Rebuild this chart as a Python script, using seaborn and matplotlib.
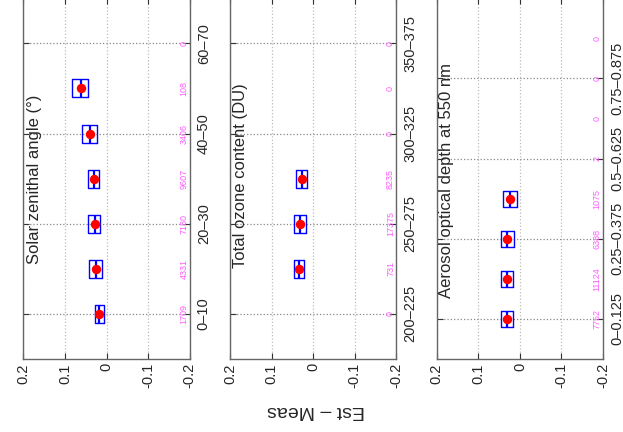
import numpy as np
import pandas as pd
import matplotlib
matplotlib.use('Agg')
import matplotlib.pyplot as plt
import seaborn as sns

## Values (Est - Meas), one entry per bin
# low / median / high edge of each box; None where the bin is empty

sza_bins = ['0–10', '10–20', '20–30', '30–40', '40–50', '50–60', '60–70']
sza_low = [0.006, 0.0106, 0.0168, 0.0178, 0.024, 0.0457, None]
sza_med = [0.0185, 0.0257, 0.028, 0.0305, 0.040, 0.062, None]
sza_high = [0.029, 0.0418, 0.0442, 0.0457, 0.0587, 0.0834, None]
sza_count = [1709, 4331, 7180, 9607, 3406, 108, 0]

oz_bins = ['200–225', '225–250', '250–275', '275–300', '300–325', '325–350', '350–375']
oz_low = [None, 0.0224, 0.0176, 0.0145, None, None, None]
oz_med = [None, 0.0344, 0.032, 0.0272, None, None, None]
oz_high = [None, 0.0457, 0.0472, 0.0416, None, None, None]
oz_count = [0, 731, 17375, 8235, 0, 0, 0]

aod_bins = ['0–0.125', '0.125–0.25', '0.25–0.375', '0.375–0.5',
            '0.5–0.625', '0.625–0.75', '0.75–0.875', '0.875–1']
aod_low = [0.0157, 0.0164, 0.014, 0.0068, None, None, None, None]
aod_med = [0.0301, 0.0309, 0.030, 0.0229, None, None, None, None]
aod_high = [0.0463, 0.0463, 0.0463, 0.0406, None, None, None, None]
aod_count = [7752, 11124, 6388, 1075, 2, 0, 0, 0]

titles = ['Solar zenithal angle (°)', 'Total ozone content (DU)',
          'Aerosol optical depth at 550 nm']
value_ticks = [0.2, 0.1, 0, -0.1, -0.2]
value_labels = ['0.2', '0.1', '0', '-0.1', '-0.2']

sns.set_style('white')
plt.rcParams['font.family'] = ['Liberation Sans', 'DejaVu Sans']


def long_form(bins, low, med, high):
    # five points per bin so that quartiles land exactly on low/med/high
    rows = []
    for b, lo, md, hi in zip(bins, low, med, high):
        if lo is None:
            continue
        for v in (lo, lo, md, hi, hi):
            rows.append({'bin': b, 'diff': v})
    return pd.DataFrame(rows)


panels = [
    (sza_bins, sza_low, sza_med, sza_high, sza_count),
    (oz_bins, oz_low, oz_med, oz_high, oz_count),
    (aod_bins, aod_low, aod_med, aod_high, aod_count),
]
lefts = [0.0377, 0.3692, 0.7010]
title_pos = [(0.022, 0.262), (0.015, 0.253), (0.015, 0.17)]

fig = plt.figure(figsize=(6.23, 4.32), dpi=100)

for i, (bins, low, med, high, count) in enumerate(panels):
    ax = fig.add_axes([lefts[i], 0.169, 0.267, 0.835])
    df = long_form(bins, low, med, high)
    sns.boxplot(data=df, x='diff', y='bin', order=bins, orient='h', ax=ax,
                width=0.4, fill=False, color='#0000ff', linewidth=1,
                whis=1.5, showcaps=False, fliersize=0,
                medianprops=dict(color='#0000ff', linewidth=1.6))
    dots = pd.DataFrame({'bin': bins, 'med': med}).dropna()
    sns.stripplot(data=dots, x='med', y='bin', order=bins, orient='h',
                  jitter=False, color='red', size=6.8, ax=ax, zorder=5)

    n = len(bins)
    ax.set_xlim(0.2, -0.2)
    ax.set_ylim(-1, n)

    # sample counts along the right edge
    for j, c in enumerate(count):
        ax.text(-0.186, j, str(c), rotation=90, ha='center', va='center',
                fontsize=6.5, color='#ff5cff')

    ax.set_xticks(value_ticks)
    ax.set_xticklabels(value_labels, rotation=90, fontsize=10.5)
    ax.set_yticks(range(0, n, 2))
    ax.set_yticklabels(bins[::2], rotation=90, fontsize=10.5, va='center')
    ax.yaxis.tick_right()
    ax.tick_params(axis='y', left=True, right=True, labelleft=False,
                   labelright=True, direction='in', length=4, pad=5,
                   color='#333333')
    ax.tick_params(axis='x', bottom=True, top=True, direction='in',
                   length=4, pad=3, color='#333333')
    ax.set_xlabel('')
    ax.set_ylabel('')
    ax.xaxis.grid(True, linestyle=':', color='#bcbcbc', linewidth=0.9)
    ax.yaxis.grid(True, linestyle=':', color='#888888', linewidth=0.9)
    ax.set_axisbelow(True)
    for s in ax.spines.values():
        s.set_color('#666666')
        s.set_linewidth(1)

    ax.text(title_pos[i][0], title_pos[i][1], titles[i], rotation=90,
            ha='left', va='bottom', fontsize=12, transform=ax.transAxes)

fig.text(316 / 623, 1 - 410 / 432, 'Est – Meas', rotation=180,
         ha='center', va='center', fontsize=14)

plt.savefig('out.png', dpi=100)
